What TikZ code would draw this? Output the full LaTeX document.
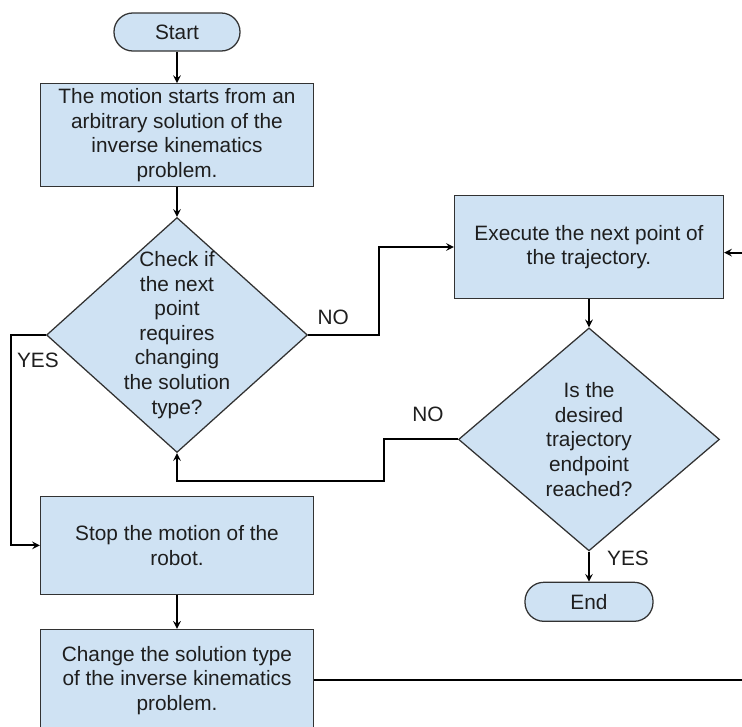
\documentclass[tikz,border=0pt]{standalone}
\usepackage{fontspec}
\setmainfont{Liberation Sans}
\usepackage{tikz}
\usetikzlibrary{arrows,shapes,positioning}
\usepackage{xcolor}
\definecolor{fcfill}{RGB}{207,226,243}
\definecolor{fcedge}{RGB}{50,50,50}
\definecolor{fctext}{RGB}{30,30,30}
\tikzstyle{arrow} = [line width=1.4pt,->,>=stealth,color=black]
\tikzstyle{terminal} = [rectangle, rounded corners=0.47cm, minimum width=3.15cm, minimum height=0.95cm, text centered, draw=fcedge, fill=fcfill, line width=0.9pt]
\tikzstyle{process} = [rectangle, minimum width=6.825cm, minimum height=2.5cm, align=center, draw=fcedge, fill=fcfill, line width=0.9pt]
\tikzstyle{decision} = [diamond, minimum width=6.525cm, minimum height=5.875cm, inner sep=0pt, draw=fcedge, fill=fcfill, line width=0.9pt]
\tikzstyle{flowtext} = [align=center]

\begin{document}
\begin{tikzpicture}[every node/.style={font=\fontsize{14.8}{17.5}\selectfont, text=fctext}]
% page frame, the last connector runs off the right edge
\useasboundingbox (-4.425,0.8) rectangle (14.125,-17.375);
\clip (-4.425,0.8) rectangle (14.125,-17.375);

% left column
\node (start) [terminal] at (0,0) {Start};
\node (init) [process, below of=start, node distance=2.575cm] {The motion starts from an\\arbitrary solution of the\\inverse kinematics\\problem.};
\node (check) [decision, below of=init, node distance=5cm] {};
\node (checktxt) [flowtext] at (check) {Check if\\the next\\point\\requires\\changing\\the solution\\type?};
\node (stop) [process, below of=check, node distance=5.26cm, minimum height=2.45cm] {Stop the motion of the\\robot.};
\node (change) [process, below of=stop, node distance=3.375cm, minimum height=2.55cm] {Change the solution type\\of the inverse kinematics\\problem.};

% right column
\node (execute) [process, right of=check, node distance=10.3cm, yshift=2.2cm, minimum width=6.725cm, minimum height=2.575cm] {Execute the next point of\\the trajectory.};
\node (endcheck) [decision, below of=execute, node distance=4.81cm, minimum height=5.575cm] {};
\node (endtxt) [flowtext] at (endcheck) {Is the\\desired\\trajectory\\endpoint\\reached?};
\node (end) [terminal, below of=endcheck, node distance=4.06cm, minimum width=3.2cm, minimum height=0.975cm] {End};

% connectors
\draw[arrow] (start) -- (init);
\draw[arrow] (init) -- (check);
\draw[arrow] (check.west) -- ++(-0.875,0) |- (stop.west);
\draw[arrow] (check.east) -- ++(1.775,0) |- (execute.west);
\draw[arrow] (execute) -- (endcheck);
\draw[arrow] (endcheck.west) -- ++(-1.85,0) -- ++(0,-1.05) -| (check.south);
\draw[arrow] (endcheck) -- (end);
\draw[arrow] (stop) -- (change);
\draw[arrow] (change.east) -- ++(11.5,0) |- ([yshift=-0.14cm]execute.east);

% branch labels
\node (yes1) at ([xshift=-0.2cm,yshift=-0.625cm]check.west) {YES};
\node (no1) at ([xshift=0.625cm,yshift=0.44cm]check.east) {NO};
\node (no2) at ([xshift=-0.75cm,yshift=0.625cm]endcheck.west) {NO};
\node (yes2) at ([xshift=0.975cm,yshift=-0.175cm]endcheck.south) {YES};
\end{tikzpicture}
\end{document}
